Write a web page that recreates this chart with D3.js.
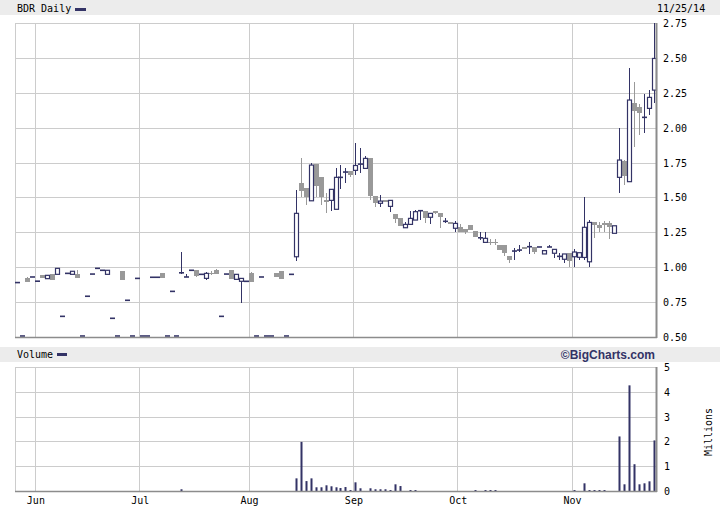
<!DOCTYPE html>
<html><head><meta charset="utf-8">
<script src="https://cdn.jsdelivr.net/npm/d3@7"></script>
<style>
body{margin:0;background:#fff}
svg{display:block}
text{font-family:"DejaVu Sans Mono",monospace;font-size:10px;fill:#000}
</style>
</head><body>
<svg id="chart" width="720" height="510"></svg>
<script>
const titleText = "BDR Daily";
const dateText = "11/25/14";
const creditText = "\u00A9BigCharts.com";

const opens = [
 0.89,0.50,0.92,0.93,0.90,0.945,0.918,0.951,0.949,0.648,
 0.956,0.949,0.951,0.50,0.792,0.951,0.992,0.978,0.949,0.634,
 0.50,0.973,0.763,0.50,0.92,0.50,0.50,0.928,0.928,0.958,
 0.50,0.827,0.50,0.96,0.93,0.978,0.98,0.949,0.92,0.96,
 0.98,0.648,0.951,0.98,0.913,0.899,0.899,0.956,0.50,0.93,
 0.50,0.50,0.956,0.973,0.50,0.949,1.075,1.603,1.565,1.476,
 1.739,1.648,1.485,1.479,1.415,1.644,1.682,1.689,1.694,1.739,
 1.708,1.78,1.51,1.458,1.481,1.436,1.381,1.35,1.283,1.307,
 1.338,1.405,1.405,1.358,1.403,1.386,1.329,1.324,1.279,1.288,
 1.271,1.302,1.259,1.211,1.178,1.183,1.18,1.159,1.159,1.08,
 1.116,1.123,1.147,1.147,1.147,1.145,1.095,1.145,1.10,1.078,
 1.057,1.10,1.075,1.071,1.07,1.039,1.321,1.302,1.314,1.314,
 1.243,1.644,1.761,1.613,2.175,2.151,2.074,2.138,2.269];
const highs = [
 0.89,0.50,0.93,0.93,0.90,0.945,0.942,0.951,0.992,0.648,
 0.956,0.971,0.98,0.50,0.792,0.951,0.992,0.978,0.978,0.634,
 0.50,0.973,0.763,0.50,0.92,0.50,0.50,0.928,0.928,0.958,
 0.50,0.827,0.50,1.11,0.95,0.978,0.98,0.949,0.965,0.97,
 0.99,0.648,0.951,0.98,0.949,0.92,0.899,0.966,0.50,0.93,
 0.50,0.50,0.956,0.975,0.50,0.949,1.553,1.784,1.57,1.744,
 1.74,1.65,1.529,1.56,1.708,1.732,1.708,1.689,1.887,1.852,
 1.797,1.78,1.51,1.517,1.481,1.479,1.381,1.35,1.326,1.405,
 1.41,1.405,1.405,1.386,1.403,1.386,1.35,1.324,1.333,1.309,
 1.271,1.302,1.259,1.252,1.25,1.20,1.20,1.159,1.159,1.08,
 1.135,1.159,1.147,1.178,1.147,1.145,1.119,1.16,1.128,1.104,
 1.095,1.10,1.128,1.104,1.505,1.338,1.321,1.326,1.33,1.33,
 1.297,1.995,1.77,2.425,2.329,2.169,2.241,2.269,2.747];
const lows = [
 0.89,0.50,0.895,0.93,0.90,0.925,0.918,0.91,0.949,0.648,
 0.956,0.949,0.925,0.50,0.792,0.951,0.992,0.978,0.949,0.634,
 0.50,0.91,0.763,0.50,0.92,0.50,0.50,0.928,0.928,0.925,
 0.50,0.827,0.50,0.955,0.93,0.978,0.93,0.949,0.91,0.945,
 0.951,0.648,0.951,0.918,0.913,0.746,0.899,0.896,0.50,0.93,
 0.50,0.50,0.928,0.913,0.50,0.949,1.047,1.501,1.446,1.476,
 1.505,1.446,1.386,1.403,1.415,1.558,1.601,1.648,1.66,1.673,
 1.708,1.481,1.433,1.433,1.465,1.398,1.319,1.297,1.283,1.307,
 1.338,1.338,1.319,1.307,1.381,1.279,1.314,1.307,1.254,1.254,
 1.238,1.267,1.218,1.195,1.178,1.16,1.157,1.12,1.08,1.028,
 1.052,1.111,1.128,1.095,1.095,1.145,1.095,1.145,1.068,1.052,
 1.028,0.999,0.999,1.052,1.05,0.999,1.207,1.254,1.254,1.20,
 1.243,1.534,1.589,1.613,1.864,1.947,1.959,2.09,2.174];
const closes = [
 0.89,0.50,0.895,0.93,0.90,0.925,0.942,0.91,0.992,0.648,
 0.956,0.971,0.925,0.50,0.792,0.951,0.992,0.978,0.978,0.634,
 0.50,0.91,0.763,0.50,0.92,0.50,0.50,0.928,0.928,0.925,
 0.50,0.827,0.50,0.96,0.93,0.978,0.94,0.949,0.956,0.95,
 0.951,0.648,0.951,0.918,0.949,0.92,0.899,0.896,0.50,0.93,
 0.50,0.50,0.928,0.913,0.50,0.949,1.386,1.548,1.505,1.732,
 1.584,1.501,1.469,1.558,1.644,1.644,1.682,1.663,1.729,1.739,
 1.78,1.512,1.462,1.474,1.465,1.479,1.345,1.297,1.307,1.35,
 1.398,1.405,1.355,1.386,1.386,1.358,1.329,1.307,1.314,1.254,
 1.25,1.267,1.218,1.211,1.207,1.171,1.17,1.12,1.10,1.052,
 1.116,1.123,1.128,1.147,1.111,1.145,1.119,1.145,1.128,1.078,
 1.095,1.044,1.109,1.104,1.286,1.321,1.302,1.279,1.30,1.29,
 1.297,1.768,1.655,2.198,2.119,2.102,2.074,2.217,2.496];
// volume, millions of shares
const volumes = [
 0,0,0,0,0,0,0,0,0,0,
 0,0,0,0,0,0,0,0,0,0,
 0,0,0,0,0,0,0,0,0,0,
 0,0,0,0.07,0,0,0,0,0,0,
 0,0,0,0,0,0,0,0,0,0,
 0,0,0,0,0,0,0.51,1.98,0.40,0.51,
 0.15,0.15,0.23,0.19,0.15,0.12,0.16,0.04,0.35,0.11,
 0,0.11,0.07,0.07,0.07,0.04,0.27,0.20,0,0.04,
 0.04,0,0,0,0,0,0,0,0,0,
 0,0,0.04,0,0.04,0.04,0.04,0,0,0,
 0,0,0,0,0,0,0,0,0,0,
 0,0,0.04,0,0.31,0.04,0.04,0.04,0.04,0,
 0,2.20,0.27,4.26,1.08,0.27,0.31,0.39,2.04];

const monthLabels = ["Jun","Jul","Aug","Sep","Oct","Nov"];
const monthStart = [4,25,47,68,89,112];   // trading-day index of first session
const priceTicks = [0.5,0.75,1.0,1.25,1.5,1.75,2.0,2.25,2.5,2.75];
const volumeTicks = [0,1,2,3,4,5];

const N = closes.length;
const NAVY = "#333366", GRAY = "#999999", GRID = "#cccccc", AXIS = "#8c8c8c", BAND = "#ececec";

const svg = d3.select("#chart");
const L = 15, R = 656;
const x = d3.scaleLinear().domain([0, N]).range([L, R]);
const yP = d3.scaleLinear().domain([0.5, 2.75]).range([337, 23]);
const yV = d3.scaleLinear().domain([0, 5]).range([491, 367]);

// header bands
svg.append("rect").attr("x",0).attr("y",0).attr("width",720).attr("height",15).attr("fill",BAND);
svg.append("rect").attr("x",0).attr("y",347).attr("width",720).attr("height",15).attr("fill",BAND);
svg.append("text").attr("x",17).attr("y",12).text(titleText);
svg.append("rect").attr("x",75).attr("y",8).attr("width",11).attr("height",3).attr("fill",NAVY);
svg.append("text").attr("x",657).attr("y",12).text(dateText);
svg.append("text").attr("x",17).attr("y",358).text("Volume");
svg.append("rect").attr("x",57).attr("y",353).attr("width",10).attr("height",3).attr("fill",NAVY);
svg.append("text").attr("x",655).attr("y",359).attr("text-anchor","end")
  .style("font-family","'Liberation Sans',Arial,sans-serif").style("font-weight","bold")
  .style("font-size","12px").style("fill",NAVY).text(creditText);

// ---------- price panel ----------
const gP = svg.append("g").attr("shape-rendering","crispEdges");
gP.selectAll(".hg").data(priceTicks).join("line")
  .attr("x1",L).attr("x2",R).attr("y1",d=>Math.round(yP(d))+0.5).attr("y2",d=>Math.round(yP(d))+0.5)
  .attr("stroke",GRID);
gP.selectAll(".vg").data(monthStart).join("line")
  .attr("x1",d=>Math.round(x(d))+0.5).attr("x2",d=>Math.round(x(d))+0.5)
  .attr("y1",yP(2.75)).attr("y2",yP(0.5)).attr("stroke",GRID);
gP.append("line").attr("x1",L+0.5).attr("x2",L+0.5).attr("y1",yP(2.75)).attr("y2",yP(0.5)).attr("stroke",GRID);

svg.selectAll(".pl").data(priceTicks).join("text")
  .attr("x",663).attr("y",d=>yP(d)+4).text(d=>d3.format(".2f")(d));

// candles
const idx = d3.range(N);
const cg = svg.append("g");
const cx = i => x(i+0.5);
cg.selectAll(".wick").data(idx.filter(i=>highs[i]>lows[i])).join("line")
  .attr("x1",i=>Math.round(cx(i))+0.5).attr("x2",i=>Math.round(cx(i))+0.5)
  .attr("y1",i=>yP(highs[i])).attr("y2",i=>yP(lows[i]))
  .attr("stroke",i=>closes[i]<opens[i]?GRAY:NAVY).attr("stroke-width",1)
  .attr("shape-rendering","crispEdges");
// down: gray filled
cg.selectAll(".down").data(idx.filter(i=>closes[i]<opens[i])).join("rect")
  .attr("x",i=>Math.round(cx(i))-2).attr("width",5)
  .attr("y",i=>yP(opens[i])).attr("height",i=>Math.max(1,yP(closes[i])-yP(opens[i])))
  .attr("fill",GRAY).attr("shape-rendering","crispEdges");
// up: hollow
cg.selectAll(".up").data(idx.filter(i=>closes[i]>opens[i])).join("rect")
  .attr("x",i=>Math.round(cx(i))-1.5).attr("width",4)
  .attr("y",i=>yP(closes[i])).attr("height",i=>Math.max(1,yP(opens[i])-yP(closes[i])))
  .attr("fill","#fff").attr("stroke",NAVY).attr("stroke-width",1.2);
// unchanged: dash
cg.selectAll(".flat").data(idx.filter(i=>closes[i]===opens[i])).join("line")
  .attr("x1",i=>Math.round(cx(i))-2).attr("x2",i=>Math.round(cx(i))+3)
  .attr("y1",i=>Math.min(yP(closes[i]),336)).attr("y2",i=>Math.min(yP(closes[i]),336))
  .attr("stroke",NAVY).attr("stroke-width",1.6);

// price axes
svg.append("line").attr("x1",L).attr("x2",R+1).attr("y1",337.5).attr("y2",337.5).attr("stroke",AXIS).attr("stroke-width",1.5);
svg.append("line").attr("x1",R+0.5).attr("x2",R+0.5).attr("y1",yP(2.75)).attr("y2",338).attr("stroke",AXIS).attr("stroke-width",2);

// ---------- volume panel ----------
const gV = svg.append("g").attr("shape-rendering","crispEdges");
gV.selectAll(".vhg").data(volumeTicks.slice(1)).join("line")
  .attr("x1",L).attr("x2",R).attr("y1",d=>Math.round(yV(d))+0.5).attr("y2",d=>Math.round(yV(d))+0.5)
  .attr("stroke",GRID);
gV.selectAll(".vvg").data(monthStart).join("line")
  .attr("x1",d=>Math.round(x(d))+0.5).attr("x2",d=>Math.round(x(d))+0.5)
  .attr("y1",yV(5)).attr("y2",yV(0)).attr("stroke",GRID);
gV.append("line").attr("x1",L+0.5).attr("x2",L+0.5).attr("y1",yV(5)).attr("y2",yV(0)).attr("stroke",GRID);

svg.append("g").selectAll("rect").data(idx.filter(i=>volumes[i]>0)).join("rect")
  .attr("x",i=>Math.round(cx(i))-0.5).attr("width",2)
  .attr("y",i=>yV(volumes[i])).attr("height",i=>Math.max(1,yV(0)-yV(volumes[i])))
  .attr("fill",NAVY);

svg.append("line").attr("x1",L).attr("x2",R+1).attr("y1",491.5).attr("y2",491.5).attr("stroke",AXIS).attr("stroke-width",1.5);
svg.append("line").attr("x1",R+0.5).attr("x2",R+0.5).attr("y1",yV(5)).attr("y2",492).attr("stroke",AXIS).attr("stroke-width",2);

svg.selectAll(".vl").data(volumeTicks).join("text")
  .attr("x",664).attr("y",d=>yV(d)+4).text(d=>d);
svg.append("text").attr("transform","translate(712,432) rotate(-90)")
  .attr("text-anchor","middle").text("Millions");

svg.selectAll(".ml").data(monthStart).join("text")
  .attr("x",d=>x(d)+1).attr("y",504).attr("text-anchor","middle")
  .text((d,k)=>monthLabels[k]);
</script>
</body></html>
